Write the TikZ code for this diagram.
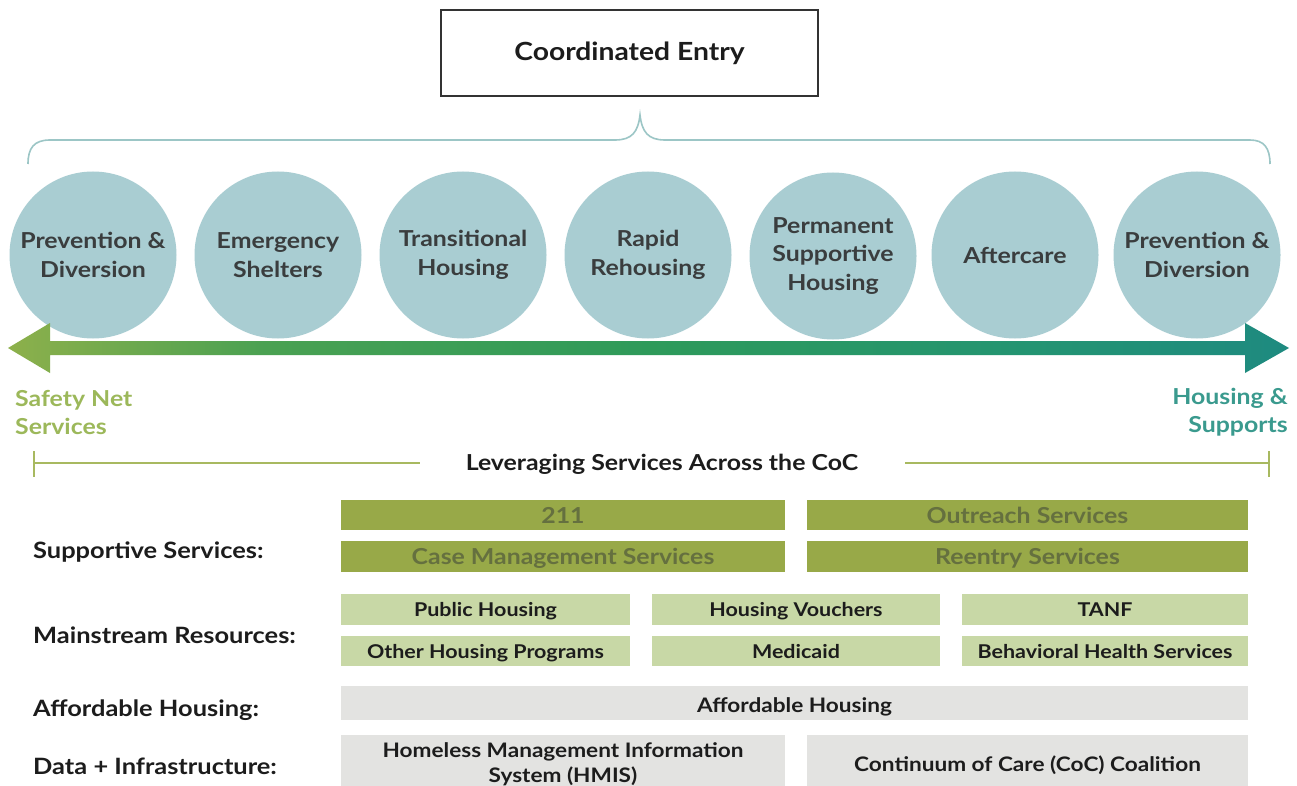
\documentclass[tikz,border=0pt]{standalone}
\usepackage{fontspec}
\setmainfont{Lato}[FakeStretch=1.13]
\definecolor{circfill}{HTML}{A9CDD2}
\definecolor{circtext}{HTML}{3A3D3E}
\definecolor{darkolive}{HTML}{98A948}
\definecolor{darkolivetext}{HTML}{65703F}
\definecolor{lightgreen}{HTML}{C8D8A6}
\definecolor{barGray}{HTML}{E3E3E1}
\definecolor{safetygreen}{HTML}{9CB85A}
\definecolor{supteal}{HTML}{3A9A8E}
\definecolor{levline}{HTML}{A8B960}
\definecolor{bracecol}{HTML}{9CC6C6}
\definecolor{arrA}{HTML}{8DB04B}
\definecolor{arrB}{HTML}{4AA152}
\definecolor{arrC}{HTML}{2E9A5A}
\definecolor{arrD}{HTML}{239472}
\definecolor{arrE}{HTML}{1E8A80}
\definecolor{labtext}{HTML}{1C1C1C}
\pgfdeclarehorizontalshading{arrowshade}{100bp}{color(0bp)=(arrA); color(25bp)=(arrA);
  color(35bp)=(arrB); color(50bp)=(arrC); color(65bp)=(arrD); color(75bp)=(arrE); color(100bp)=(arrE)}
\tikzset{
  stage/.style={circle, fill=circfill, minimum size=167pt, inner sep=0pt, align=center,
    text=circtext, font=\fontsize{22}{28.5}\selectfont\bfseries},
  rowlabel/.style={anchor=west, text=labtext, font=\fontsize{22.5}{26}\selectfont\bfseries, inner sep=0pt},
  darkbar/.style={fill=darkolive, text=darkolivetext, inner sep=0pt, text height=16.5pt, text depth=0pt,
    font=\fontsize{22}{26}\selectfont\bfseries},
  lightbar/.style={fill=lightgreen, text=labtext, inner sep=0pt, text height=14.5pt, text depth=0pt,
    font=\fontsize{19}{24}\selectfont\bfseries},
  graybar/.style={fill=barGray, text=labtext, inner sep=0pt, align=center, text height=18pt, text depth=0pt,
    font=\fontsize{20}{25}\selectfont\bfseries},
}
\begin{document}
\begin{tikzpicture}[x=1pt,y=-1pt]
\useasboundingbox[fill=white] (0,0) rectangle (1297,786);

% Coordinated entry box
\node[draw=black!80, line width=1.4pt, minimum width=377pt, minimum height=86pt, inner sep=0pt,
  font=\fontsize{25}{28}\selectfont\bfseries, text=labtext] (ce) at (629.5,53) {Coordinated Entry};

% brace
\coordinate (brL) at (28,164);
\coordinate (brR) at (1270,164);
\coordinate (brT) at (640,115);
\draw[bracecol, line width=1.6pt] (brL) .. controls (28,148) and (34,140) .. (50,140)
  -- (615,140) .. controls (632,140) and (638,132) .. (brT)
  .. controls (642,132) and (648,140) .. (665,140) -- (1250,140)
  .. controls (1264,140) and (1270,148) .. (brR);

% circles
\node[stage] (c1) at (93,255) {Prevention \&\\Diversion};
\node[stage] (c2) at (278,255) {Emergency\\Shelters};
\node[stage] (c3) at (463,255) {Transitional\\Housing};
\node[stage] (c4) at (648,255) {Rapid\\Rehousing};
\node[stage] (c5) at (833,256) {Permanent\\Supportive\\Housing};
\node[stage] (c6) at (1015,255) {Aftercare};
\node[stage] (c7) at (1197,255) {Prevention \&\\Diversion};

% double arrow
\shade[shading=arrowshade]
  (8,348) -- (50,323) -- (50,341) -- (1245,341) -- (1245,323) -- (1289,348)
  -- (1245,373) -- (1245,355) -- (50,355) -- (50,373) -- cycle;

% end labels
\node[anchor=north west, inner sep=0pt, align=left, text=safetygreen,
  font=\fontsize{22}{28}\selectfont\bfseries] (sns) at (15,390) {Safety Net\\Services};
\node[anchor=north east, inner sep=0pt, align=right, text=supteal,
  font=\fontsize{22}{28}\selectfont\bfseries] (hs) at (1288,388) {Housing \&\\Supports};

% leveraging line
\node[inner sep=0pt, text=labtext, font=\fontsize{22}{26}\selectfont\bfseries] (lev) at (662,464)
  {Leveraging Services Across the CoC};
\coordinate (levL) at (34,463);
\coordinate (levR) at (1269,463);
\coordinate (levLi) at (420,463);
\coordinate (levRi) at (905,463);
\draw[levline, line width=1.5pt] (levL) -- (levLi);
\draw[levline, line width=1.5pt] (levRi) -- (levR);
\draw[levline, line width=2.5pt] (34,451) -- (34,477);
\draw[levline, line width=2.5pt] (1269,451) -- (1269,477);

% row labels
\node[rowlabel] (lss) at (33,552) {Supportive Services:};
\node[rowlabel] (lmr) at (33,635) {Mainstream Resources:};
\node[rowlabel] (lah) at (33,710) {Affordable Housing:};
\node[rowlabel] (ldi) at (33,766) {Data + Infrastructure:};

% supportive services bars
\node[darkbar, minimum width=444pt, minimum height=30pt] (b211) at (563,515) {211};
\node[darkbar, minimum width=441pt, minimum height=30pt] (bout) at (1027.5,515) {Outreach Services};
\node[darkbar, minimum width=444pt, minimum height=31pt] (bcm) at (563,556.5) {Case Management Services};
\node[darkbar, minimum width=441pt, minimum height=31pt] (bre) at (1027.5,556.5) {Reentry Services};

% mainstream resources
\node[lightbar, minimum width=289pt, minimum height=31pt] (bph) at (485.5,609.5) {Public Housing};
\node[lightbar, minimum width=288pt, minimum height=31pt] (bhv) at (796,609.5) {Housing Vouchers};
\node[lightbar, minimum width=286pt, minimum height=31pt] (btanf) at (1105,609.5) {TANF};
\node[lightbar, minimum width=289pt, minimum height=30pt] (boh) at (485.5,651) {Other Housing Programs};
\node[lightbar, minimum width=288pt, minimum height=30pt] (bmed) at (796,651) {Medicaid};
\node[lightbar, minimum width=286pt, minimum height=30pt] (bbh) at (1105,651) {Behavioral Health Services};

% affordable housing
\node[graybar, minimum width=907pt, minimum height=34pt] (baf) at (794.5,703) {Affordable Housing};

% data + infrastructure
\node[graybar, minimum width=444pt, minimum height=52pt, text height=42pt] (bhmis) at (563,761) {Homeless Management Information\\System (HMIS)};
\node[graybar, minimum width=441pt, minimum height=52pt, text height=20pt] (bcoc) at (1027.5,761) {Continuum of Care (CoC) Coalition};
\end{tikzpicture}
\end{document}
